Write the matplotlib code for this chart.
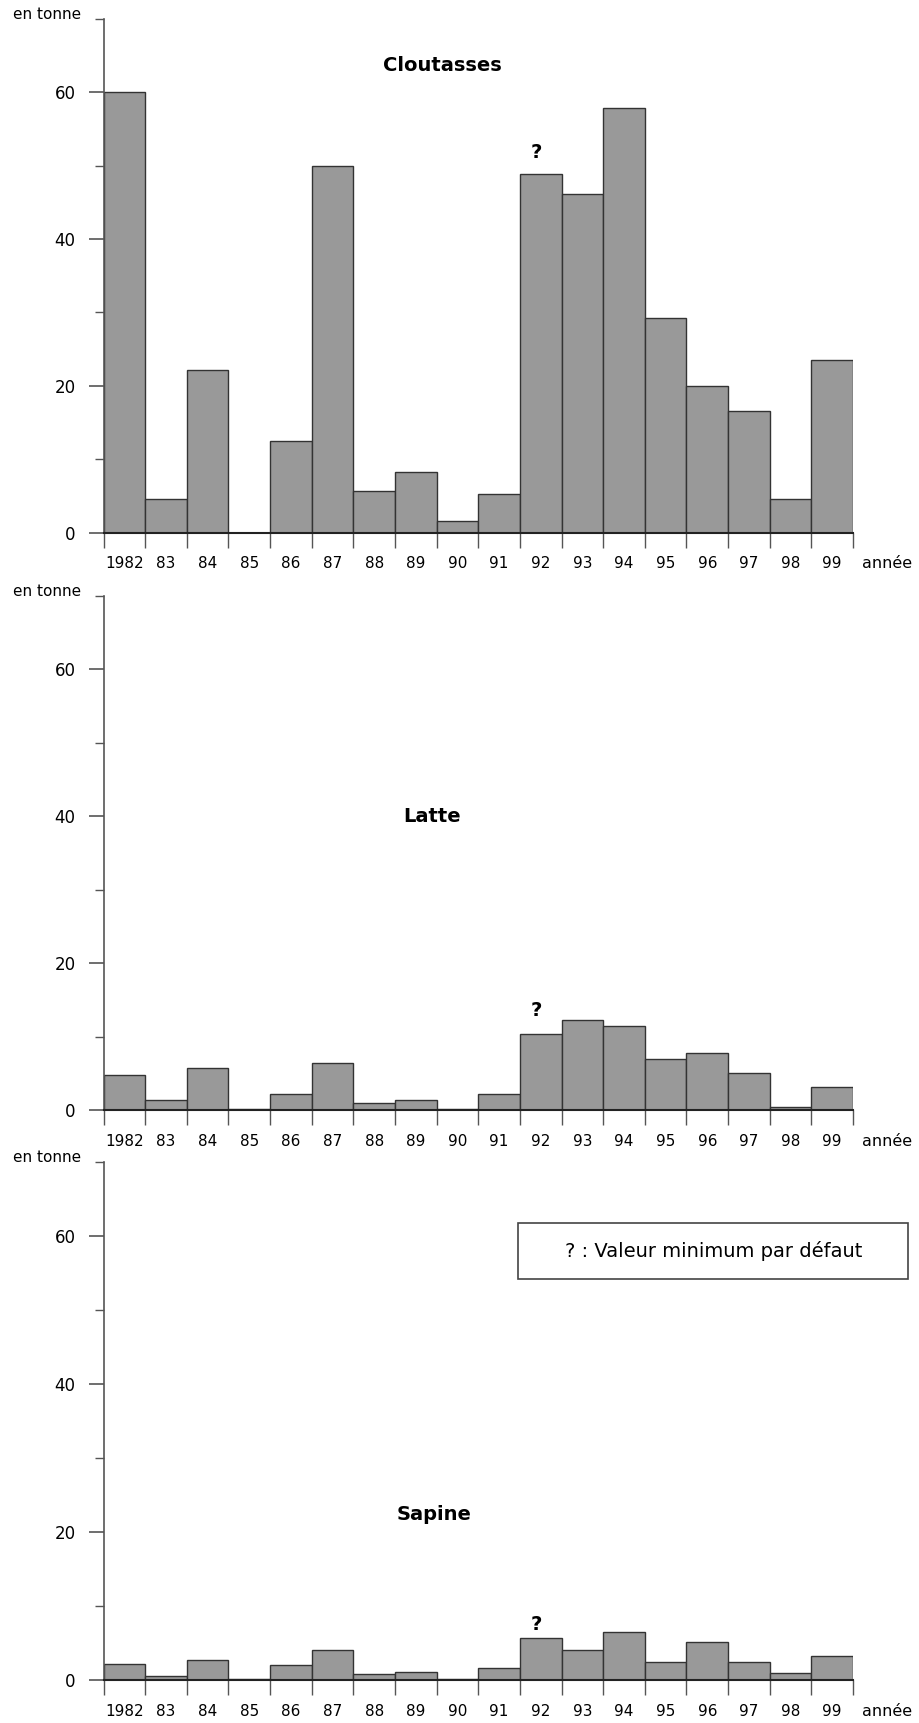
import matplotlib
matplotlib.use("Agg")
import matplotlib.pyplot as plt
from matplotlib.ticker import FixedLocator
from matplotlib.patches import Rectangle
import numpy as np

years = ["1982", "83", "84", "85", "86", "87", "88", "89", "90",
         "91", "92", "93", "94", "95", "96", "97", "98", "99"]
cloutasses = [60.1, 4.6, 22.2, 0.0, 12.5, 50.0, 5.7, 8.3, 1.6,
              5.3, 48.9, 46.2, 57.9, 29.2, 20.0, 16.6, 4.6, 23.5]
latte = [4.8, 1.3, 5.7, 0.1, 2.2, 6.4, 1.0, 1.4, 0.2,
         2.2, 10.4, 12.2, 11.5, 7.0, 7.8, 5.0, 0.4, 3.2]
sapine = [2.1, 0.6, 2.7, 0.1, 2.0, 4.0, 0.8, 1.1, 0.2,
          1.6, 5.7, 4.0, 6.5, 2.4, 5.1, 2.4, 0.9, 3.3]
titles = ["Cloutasses", "Latte", "Sapine"]
uncertain_year = "92"
legend_text = "? : Valeur minimum par défaut"

W, H = 919, 1723
fig = plt.figure(figsize=(W / 100, H / 100), dpi=100)

left_px, right_px = 103.5, 853
panels = [(19, 532.5), (596, 1110), (1162, 1680)]
title_pos = [(8.13, 63.7), (7.9, 40.0), (7.94, 22.4)]
q_offset = [2.9, 3.1, 1.75]
series = [cloutasses, latte, sapine]

n = len(years)
for k, (top, bot) in enumerate(panels):
    ax = fig.add_axes([left_px / W, 1 - bot / H, (right_px - left_px) / W, (bot - top) / H])
    vals = series[k]
    x = np.arange(n) + 0.5
    ax.bar(x, vals, width=1.0, color="#999999", edgecolor="#333333", linewidth=1.0, zorder=2)
    ax.set_xlim(0, n)
    ax.set_ylim(0, 70)
    for s in ["top", "right"]:
        ax.spines[s].set_visible(False)
    ax.spines["left"].set_color("#555555")
    ax.spines["left"].set_linewidth(1.2)
    ax.spines["bottom"].set_color("#222222")
    ax.spines["bottom"].set_linewidth(1.5)
    ax.spines["bottom"].set_zorder(3)

    ax.yaxis.set_major_locator(FixedLocator([0, 20, 40, 60]))
    ax.yaxis.set_minor_locator(FixedLocator([10, 30, 50, 70]))
    ax.tick_params(axis="y", which="major", length=11, width=1.2, color="#555555",
                   pad=9, labelsize=12)
    ax.tick_params(axis="y", which="minor", length=6.5, width=1.0, color="#555555")

    ax.xaxis.set_major_locator(FixedLocator(np.arange(n + 1)))
    ax.xaxis.set_minor_locator(FixedLocator(x))
    ax.set_xticklabels([], minor=False)
    ax.set_xticklabels(years, minor=True)
    ax.tick_params(axis="x", which="major", length=10.8, width=1.0, color="#555555")
    ax.tick_params(axis="x", which="minor", length=0, pad=17, labelsize=11)

    tx, ty = title_pos[k]
    ax.text(tx, ty, titles[k], ha="center", va="center", fontsize=14, fontweight="bold")

    i = years.index(uncertain_year)
    ax.text(i + 0.4, vals[i] + q_offset[k], "?", ha="center", va="center",
            fontsize=14, fontweight="bold")

    ax.annotate("en tonne", xy=(0, 1), xycoords="axes fraction", xytext=(-16, 3),
                textcoords="offset points", ha="right", va="center", fontsize=11)
    ax.annotate("année", xy=(1, 0), xycoords="axes fraction", xytext=(6.5, -17),
                textcoords="offset points", ha="left", va="top", fontsize=11.5)

bx0, bx1, by0, by1 = 518, 908, 1223, 1279
fig.patches.append(Rectangle((bx0 / W, 1 - by1 / H), (bx1 - bx0) / W, (by1 - by0) / H,
                             transform=fig.transFigure, facecolor="white",
                             edgecolor="#444444", linewidth=1.2, zorder=5))
fig.text((552 + 875) / 2 / W, 1 - 1251 / H, legend_text, ha="center", va="center",
         fontsize=14, zorder=6)

fig.savefig("out.png", dpi=100)
